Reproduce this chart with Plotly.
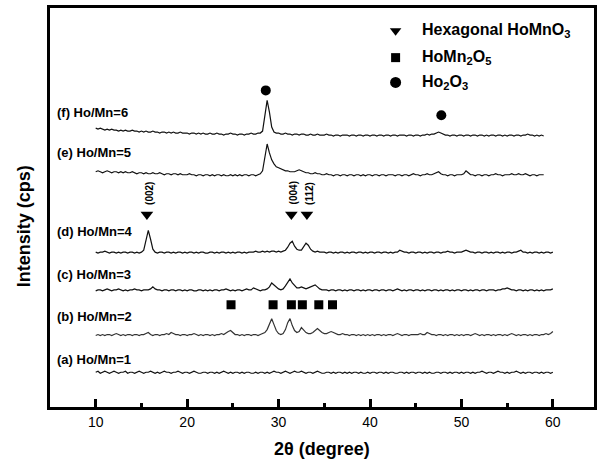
import plotly.graph_objects as go

# 2-theta grid (degrees), 0.25 deg step
two_theta_full = [10 + 0.25 * i for i in range(201)]   # 10 .. 60
two_theta_short = [10 + 0.25 * i for i in range(197)]  # 10 .. 59

# intensities (arbitrary units, relative to each pattern's baseline)
int_a = [1,2,0,1,2,1,0,1,2,1,0,1,1,2,0,1,1,0,1,2,
         1,0,1,1,2,1,0,1,0,1,2,1,1,0,1,1,2,1,0,1,
         1,0,1,2,1,0,0,1,1,0,1,1,0,1,0,1,2,1,0,1,
         0,1,1,0,1,0,1,1,0,0,1,0,1,1,0,1,0,1,2,1,
         1,0,1,2,1,0,1,2,1,1,2,1,0,1,1,0,1,2,1,0,
         0,1,1,0,1,0,1,1,0,1,0,1,0,1,1,0,1,0,0,1,
         0,1,1,0,1,1,0,1,0,1,1,0,0,1,1,0,1,0,1,1,
         0,1,1,0,1,0,1,0,0,1,1,0,1,1,0,1,0,1,1,0,
         1,0,1,1,0,1,0,1,1,2,1,0,1,1,0,1,2,1,1,0,
         1,0,1,1,2,1,0,1,0,1,1,0,1,1,0,1,0,1,1,0,
         1]
int_b = [0,1,0,1,0,1,1,0,1,2,1,0,1,0,1,1,0,1,1,0,
         1,1,2,3,1,0,1,1,0,1,1,2,1,3,2,1,1,0,1,1,
         0,1,1,2,1,0,1,0,1,1,0,1,0,1,1,2,1,3,4,5,
         3,1,1,0,1,0,1,1,0,1,1,0,1,2,3,6,12,17,11,5,
         2,1,2,6,13,17,10,5,3,4,8,6,3,2,2,3,5,7,5,3,
         2,2,3,4,3,2,1,1,2,1,1,0,1,1,0,1,0,1,0,1,
         0,1,0,1,1,0,1,0,1,1,0,1,2,1,0,1,1,0,1,1,
         1,1,2,1,1,3,2,1,1,0,1,1,0,1,0,1,1,0,1,0,
         1,0,1,1,0,1,2,1,0,1,0,1,1,0,1,0,1,1,0,1,
         0,1,2,1,0,1,0,1,1,0,1,0,1,1,0,1,1,2,1,2,
         4]
int_c = [0,1,1,0,1,2,1,0,1,1,2,1,0,1,0,1,1,2,1,1,
         0,1,1,1,2,4,2,1,1,0,1,1,0,1,1,0,1,1,0,1,
         0,1,1,0,0,1,1,0,1,0,1,0,1,1,0,1,1,2,1,0,
         1,0,1,1,0,1,2,1,1,3,2,1,0,1,1,2,4,8,6,3,
         2,1,2,5,9,12,8,5,3,3,4,3,2,3,4,5,6,4,2,1,
         1,1,0,1,1,0,1,1,0,1,0,1,1,0,1,1,0,1,0,1,
         1,0,1,1,0,1,1,0,1,1,0,1,2,1,0,1,0,1,1,0,
         1,1,0,1,0,1,1,0,1,1,0,1,0,1,1,0,1,0,1,1,
         0,1,1,0,1,0,1,1,0,1,1,0,1,1,1,0,1,1,2,2,
         3,2,1,1,0,1,1,0,1,0,1,1,0,1,0,1,0,1,1,1,
         2]
int_d = [1,0,1,1,2,1,0,1,1,0,1,0,1,1,0,1,1,0,1,0,
         1,3,13,23,14,4,1,0,1,1,0,1,1,0,1,0,1,1,0,1,
         0,1,1,0,1,0,1,1,0,0,1,1,0,1,0,1,1,0,1,0,
         1,0,1,1,0,1,0,1,1,1,2,1,1,2,1,2,1,2,2,1,
         2,1,2,3,6,10,12,7,4,3,3,6,10,8,4,2,1,2,1,1,
         1,0,1,1,0,1,0,1,1,0,1,0,1,1,0,1,1,0,1,0,
         1,1,0,1,1,0,1,1,0,1,0,1,1,3,2,1,1,0,1,1,
         0,1,1,0,1,0,1,1,0,1,1,0,1,1,2,1,1,0,1,1,
         1,2,3,2,1,1,0,1,1,0,1,1,0,1,0,1,1,0,1,0,
         1,1,0,1,1,2,3,1,1,0,1,0,1,1,0,1,0,1,1,0,
         1]
int_e = [4,5,4,3,4,5,4,3,4,4,3,4,3,4,3,3,4,3,2,3,
         3,2,3,2,2,3,2,2,3,2,1,2,2,1,2,2,1,2,1,1,
         1,2,1,1,0,1,1,0,1,1,0,1,0,1,1,0,1,0,0,1,
         0,1,0,1,0,1,1,0,1,1,0,1,2,5,20,32,23,16,12,9,
         8,7,6,5,5,4,4,4,5,6,5,4,3,3,2,2,3,2,2,1,
         1,2,1,1,0,1,1,0,1,1,0,1,1,0,1,1,0,1,0,1,
         1,0,1,1,0,1,1,0,1,1,1,0,1,1,0,1,1,0,1,2,
         1,1,0,1,1,2,1,1,2,3,4,2,1,1,0,1,1,0,1,1,
         1,2,5,3,1,1,0,1,1,0,1,1,0,1,1,2,1,1,0,1,
         1,1,2,1,1,2,1,1,2,1,0,1,1,0,1,1,1]
int_f = [8,7,8,7,6,7,6,7,6,6,5,6,5,6,5,5,6,5,5,4,
         5,4,5,4,4,5,4,4,3,4,4,3,4,3,4,3,3,4,3,3,
         3,2,3,3,2,3,2,3,2,2,3,2,2,3,2,2,1,2,2,3,
         2,2,1,2,2,1,2,2,3,2,2,3,3,5,20,36,24,9,4,3,
         3,2,2,3,2,2,1,2,2,1,2,2,1,1,2,1,1,2,1,1,
         1,2,1,1,0,1,1,0,1,1,1,0,1,1,0,1,1,0,1,1,
         0,1,1,0,1,1,0,1,1,0,1,1,0,1,1,1,0,1,1,0,
         1,1,0,1,1,2,1,2,2,3,4,3,2,1,1,0,1,1,0,1,
         1,0,1,1,0,1,1,0,1,1,0,1,0,1,1,0,1,1,0,1,
         0,1,1,0,1,1,0,1,1,2,1,1,0,1,0,1,0]

series_labels = ["(a) Ho/Mn=1", "(b) Ho/Mn=2", "(c) Ho/Mn=3",
                 "(d) Ho/Mn=4", "(e) Ho/Mn=5", "(f) Ho/Mn=6"]
series_offsets = [34, 72, 117, 155, 233, 273]
series_data = [int_a, int_b, int_c, int_d, int_e, int_f]
series_x = [two_theta_full] * 4 + [two_theta_short] * 2
series_colors = ["#111", "#333", "#111", "#111", "#111", "#111"]
label_y = [48, 91, 134, 177, 256, 297]

# phase markers
hex_x = [15.6, 31.4, 33.1]
hex_y = [194, 194, 194]
hex_hkl = ["(002)", "(004)", "(112)"]
mn2o5_x = [24.8, 29.4, 31.4, 32.6, 34.4, 35.9]
mn2o5_y = [103] * 6
ho2o3_x = [28.6, 47.8]
ho2o3_y = [319, 294]

font = "Arial, Liberation Sans, sans-serif"
fig = go.Figure()

for xs, ys, off, col in zip(series_x, series_data, series_offsets, series_colors):
    fig.add_trace(go.Scatter(x=xs, y=[v + off for v in ys], mode="lines",
                             line=dict(color=col, width=1.2), showlegend=False,
                             hoverinfo="skip"))

fig.add_trace(go.Scatter(x=hex_x, y=hex_y, mode="markers",
                         marker=dict(symbol="triangle-down", size=11, color="black"),
                         showlegend=False))
fig.add_trace(go.Scatter(x=mn2o5_x, y=mn2o5_y, mode="markers",
                         marker=dict(symbol="square", size=9, color="black"),
                         showlegend=False))
fig.add_trace(go.Scatter(x=ho2o3_x, y=ho2o3_y, mode="markers",
                         marker=dict(symbol="circle", size=10, color="black"),
                         showlegend=False))

# legend drawn manually (to allow subscripts)
leg_x = [42.8, 42.8, 42.8]
leg_y = [379, 352, 327]
leg_sym = ["triangle-down", "square", "circle"]
leg_size = [10, 9, 11]
leg_text = ["<b>Hexagonal HoMnO<sub>3</sub></b>", "<b>HoMn<sub>2</sub>O<sub>5</sub></b>",
            "<b>Ho<sub>2</sub>O<sub>3</sub></b>"]
for x, y, s, sz, t in zip(leg_x, leg_y, leg_sym, leg_size, leg_text):
    fig.add_trace(go.Scatter(x=[x], y=[y], mode="markers",
                             marker=dict(symbol=s, size=sz, color="#000000",
                                         line=dict(width=0), opacity=1),
                             showlegend=False))
    fig.add_annotation(x=x + 2.7, y=y, text=t, showarrow=False, xanchor="left",
                       yanchor="middle", font=dict(family=font, size=16, color="black"))

for t, y in zip(series_labels, label_y):
    fig.add_annotation(x=5.5, y=y, text="<b>" + t + "</b>", showarrow=False,
                       xanchor="left", yanchor="middle",
                       font=dict(family=font, size=13, color="black"))

for x, y, t in zip(hex_x, hex_y, hex_hkl):
    fig.add_annotation(x=x, y=y + 8, text="<b>" + t + "</b>", showarrow=False,
                       textangle=-90, xanchor="center", yanchor="bottom", xshift=2,
                       font=dict(family=font, size=10, color="black"))

# y-axis title placed as an annotation for exact position
fig.add_annotation(xref="paper", x=0, y=182, text="<b>Intensity (cps)</b>",
                   showarrow=False, textangle=-90, xanchor="center", yanchor="middle",
                   xshift=-26, font=dict(family=font, size=18, color="black"))

fig.update_layout(
    width=602, height=461,
    margin=dict(l=50, r=5, t=7, b=52),
    plot_bgcolor="white", paper_bgcolor="white",
    font=dict(family=font, color="black"),
)
fig.update_xaxes(range=[5, 64.5], showline=True, linewidth=2.5, linecolor="black",
                 mirror=True, ticks="inside", ticklen=8, tickwidth=2.5,
                 tickcolor="black", tick0=10, dtick=10, showgrid=False, zeroline=False,
                 tickfont=dict(size=14, family=font),
                 minor=dict(ticks="inside", ticklen=4, tickwidth=2.5, dtick=5,
                            tick0=5, tickcolor="black", showgrid=False),
                 title=dict(text="<b>2θ (degree)</b>", font=dict(size=18, family=font),
                            standoff=14))
fig.update_yaxes(range=[0, 402], showline=True, linewidth=2.5, linecolor="black",
                 mirror=True, ticks="", showticklabels=False, showgrid=False,
                 zeroline=False)

fig.write_html("out.html")
